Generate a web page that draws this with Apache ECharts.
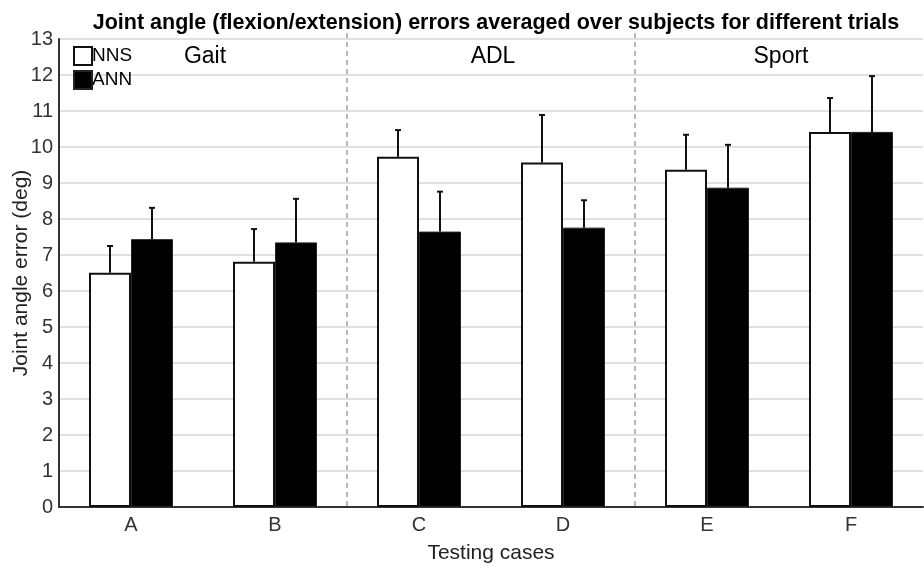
<!DOCTYPE html>
<html><head><meta charset="utf-8">
<script src="https://cdn.jsdelivr.net/npm/echarts@6/dist/echarts.min.js"></script>
<style>html,body{margin:0;padding:0;background:#fff}#c{width:924px;height:566px}</style>
</head><body><div id="c"></div>
<script>
const categories = ['A','B','C','D','E','F'];
const nnsMean = [6.51, 6.81, 9.73, 9.57, 9.37, 10.42];
const nnsErr  = [0.74, 0.91, 0.74, 1.32, 0.97, 0.94];
const annMean = [7.44, 7.35, 7.65, 7.76, 8.87, 10.42];
const annErr  = [0.87, 1.21, 1.11, 0.76, 1.19, 1.55];
const groupNames = ['Gait','ADL','Sport'];
const groupStart = [0, 2, 4];
const groupEnd   = [1, 3, 5];
const yTicks = [0,1,2,3,4,5,6,7,8,9,10,11,12,13];

const FONT = 'Liberation Sans, Arial, sans-serif';
const BW = 42;
const chart = echarts.init(document.getElementById('c'), null, {renderer:'canvas'});

function errRender(sign){
  return function(params, api){
    const i = api.value(0);
    const top = api.coord([i, api.value(1) + api.value(2)]);
    const base = api.coord([i, api.value(1)]);
    const x = base[0] + sign * BW / 2;
    const style = {stroke:'#111', lineWidth:2};
    return {type:'group', children:[
      {type:'line', shape:{x1:x, y1:base[1], x2:x, y2:top[1]}, style},
      {type:'line', shape:{x1:x-3, y1:top[1], x2:x+3, y2:top[1]}, style}
    ]};
  };
}

chart.setOption({
  animation:false,
  textStyle:{fontFamily:FONT},
  title:{text:'Joint angle (flexion/extension) errors averaged over subjects for different trials',
    left:491, top:7, textAlign:'center',
    textStyle:{fontSize:21.5, fontWeight:'bold', color:'#000', fontFamily:FONT}},
  legend:{orient:'vertical', left:68, top:41, itemWidth:18, itemHeight:18, itemGap:4,
    icon:'rect', data:['NNS','ANN'],
    textStyle:{fontSize:19, color:'#000', fontFamily:FONT, padding:[0,0,0,-5]}},
  grid:{left:59, right:1, top:39, bottom:59, containLabel:false, outerBoundsMode:'none'},
  xAxis:{type:'category', data:categories,
    name:'Testing cases', nameLocation:'middle', nameGap:36, nameMoveOverlap:false,
    nameTextStyle:{fontSize:21, color:'#222', fontFamily:FONT},
    axisLine:{lineStyle:{color:'#333', width:2}}, axisTick:{show:false},
    axisLabel:{fontSize:20, color:'#333', margin:8, fontFamily:FONT}},
  yAxis:{type:'value', min:0, max:13, interval:1,
    name:'Joint angle error (deg)', nameLocation:'middle', nameGap:27, nameMoveOverlap:false,
    nameTextStyle:{fontSize:21, color:'#222', fontFamily:FONT},
    axisLine:{show:true, lineStyle:{color:'#333', width:2}}, axisTick:{show:false},
    axisLabel:{fontSize:20, color:'#333', margin:6, fontFamily:FONT,
      formatter: v => yTicks.includes(v) ? String(v) : ''},
    splitLine:{lineStyle:{color:'#e0e0e0', width:2}}},
  series:[
    {name:'NNS', type:'bar', data:nnsMean, barWidth:BW, barGap:'0%',
      itemStyle:{color:'#fff', borderColor:'#111', borderWidth:2}},
    {name:'ANN', type:'bar', data:annMean, barWidth:BW,
      itemStyle:{color:'#000', borderColor:'#222', borderWidth:1}},
    {type:'custom', name:'nnsErr', renderItem:errRender(-1), z:5,
      data:categories.map((c,i)=>[i, nnsMean[i], nnsErr[i]])},
    {type:'custom', name:'annErr', renderItem:errRender(1), z:5,
      data:categories.map((c,i)=>[i, annMean[i], annErr[i]])},
    {type:'custom', name:'groups', z:1, silent:true,
      data:groupNames.map((g,i)=>[groupStart[i], groupEnd[i], i]),
      renderItem:function(params, api){
        const s = api.coord([api.value(0), 0]);
        const e = api.coord([api.value(1), 0]);
        const top = api.coord([0, 13]);
        const half = api.size([1,0])[0] / 2;
        const gi = api.value(2);
        const children = [{type:'text', style:{text:groupNames[gi], x:(s[0]+e[0])/2 + 2, y:top[1]+18,
          align:'center', verticalAlign:'middle', fontSize:23, fill:'#000', fontFamily:FONT}}];
        if (gi > 0) {
          const x = s[0] - half;
          children.push({type:'line', shape:{x1:x, y1:top[1]-6, x2:x, y2:s[1]},
            style:{stroke:'#888', lineWidth:1.2, lineDash:[5,4]}});
        }
        return {type:'group', children};
      }}
  ]
});
</script></body></html>
